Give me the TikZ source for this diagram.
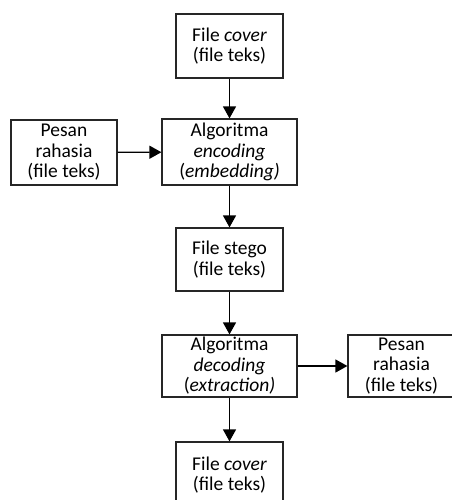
\documentclass[tikz,border=0pt]{standalone}
\usepackage{fontspec}
\setmainfont{Carlito}
\usetikzlibrary{arrows.meta}
\tikzset{
  box/.style={draw=black!85, line width=1.2pt, align=center, inner sep=0pt,
    font=\fontsize{19.5}{20.5}\selectfont},
  conn/.style={line width=1.3pt, -{Triangle[width=13pt,length=12pt]}}
}
\begin{document}
\begin{tikzpicture}[x=1pt,y=-1pt]
\useasboundingbox (0,0) rectangle (451,500);
\node[box, minimum width=107pt, minimum height=64pt] (c1) at (229.5,46) {File \textit{cover}\\(file teks)};
\node[box, minimum width=106pt, minimum height=65pt] (p1) at (64,152.5) {Pesan\\rahasia\\(file teks)};
\node[box, minimum width=135pt, minimum height=66pt] (enc) at (229.5,152) {Algoritma\\\textit{encoding}\\(\textit{embedding)}};
\node[box, minimum width=107pt, minimum height=63pt] (st) at (229.5,259.5) {File stego\\(file teks)};
\node[box, minimum width=135pt, minimum height=62pt] (dec) at (229.5,366) {Algoritma\\\textit{decoding}\\(\textit{extraction)}};
\node[box, minimum width=107pt, minimum height=62pt] (p2) at (401.5,366) {Pesan\\rahasia\\(file teks)};
\node[box, minimum width=107pt, minimum height=66pt] (c2) at (229.5,475) {File \textit{cover}\\(file teks)};
\draw[conn] (c1) -- (enc);
\draw[conn] (p1) -- (enc);
\draw[conn] (enc) -- (st);
\draw[conn] (st) -- (dec);
\draw[conn] (dec) -- (p2);
\draw[conn] (dec) -- (c2);
\end{tikzpicture}
\end{document}
